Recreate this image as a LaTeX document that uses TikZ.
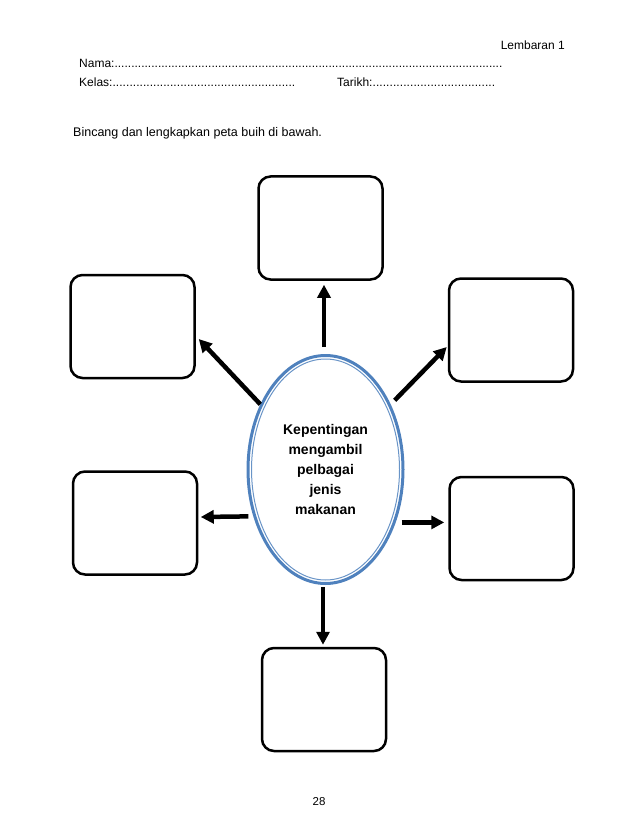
\documentclass[tikz,border=0pt]{standalone}
\usepackage{fontspec}
\setmainfont{Liberation Sans}
\usetikzlibrary{arrows.meta,shapes.geometric,calc}

\definecolor{buihbiru}{RGB}{79,129,189}
\newcommand{\titikan}{\xleaders\hbox{.}\hfill}

\tikzset{
  kotak/.style={draw, line width=2.5pt, rounded corners=12pt, inner sep=0pt,
    minimum width=124pt, minimum height=103pt},
  anak/.style={line width=4.5pt, -{Triangle[length=13pt,width=13pt]}},
  teks/.style={inner sep=0pt, font=\fontsize{12}{14}\selectfont},
}

\begin{document}
\begin{tikzpicture}[x=1pt, y=-1pt]

  %% ════ kepala helaian ════
  \node[teks, anchor=base east] (lembaran) at (565,50) {Lembaran 1};
  \node[teks, anchor=base west] (nama) at (79,68) {\makebox[423pt][l]{Nama:\titikan}};
  \node[teks, anchor=base west] (kelas) at (79,87) {\makebox[216pt][l]{Kelas:\titikan}};
  \node[teks, anchor=base west] (tarikh) at (337,87) {\makebox[158pt][l]{Tarikh:\titikan}};
  \node[teks, anchor=base west, font=\fontsize{12.5}{15}\selectfont] (arahan) at (73,137)
    {Bincang dan lengkapkan peta buih di bawah.};

  %% ════ buih tengah (garis berganda) ════
  \node[ellipse, draw=buihbiru, line width=3pt, inner sep=0pt,
        minimum width=155pt, minimum height=228pt] (ctr) at (325.5,469.5) {};
  \draw[buihbiru!85, line width=1pt] (ctr.center) ellipse [x radius=74, y radius=110.5];
  \node[align=center, font=\bfseries\fontsize{14}{20}\selectfont] (tajuk) at (ctr.center)
    {Kepentingan\\mengambil\\pelbagai\\jenis\\makanan};

  %% ════ kotak kosong ════
  \node[kotak] (atas)  at (320.5,228)   {};
  \node[kotak] (kiri1) at (132.5,326.5) {};
  \node[kotak] (kanan1) at (511,330)    {};
  \node[kotak] (kiri2) at (135,523)     {};
  \node[kotak] (kanan2) at (511.5,528.5) {};
  \node[kotak] (bawah) at (324,699.5)   {};

  %% ════ anak panah ════
  \coordinate (ekor5) at ($(ctr.323)+(6,0)$);
  \draw[anak] ($(ctr.north)+(-1.5,-7)$) -- ($(atas.south)+(3.5,4)$);
  \draw[anak] (ctr.135) -- ($(kiri1.east)+(3,12.5)$);
  \draw[anak] ($(ctr.45)+(4,-4)$) -- ($(kanan1.west)+(-1,17)$);
  \draw[anak] ($(ctr.213)+(-5,0)$) -- ($(kiri2.east)+(2.5,-6)$);
  \draw[anak] (ekor5) -- ($(kanan2.west |- ekor5)+(-4,0)$);
  \draw[anak] ($(ctr.south)+(-2.5,2)$) -- ($(bawah.north)+(-1,-2)$);

  %% ════ nombor muka ════
  \node[teks, anchor=base, font=\fontsize{11.5}{14}\selectfont] (muka) at (319,805) {28};

  \pgfresetboundingbox
  \path[use as bounding box] (0,0) rectangle (638,826);
\end{tikzpicture}
\end{document}
